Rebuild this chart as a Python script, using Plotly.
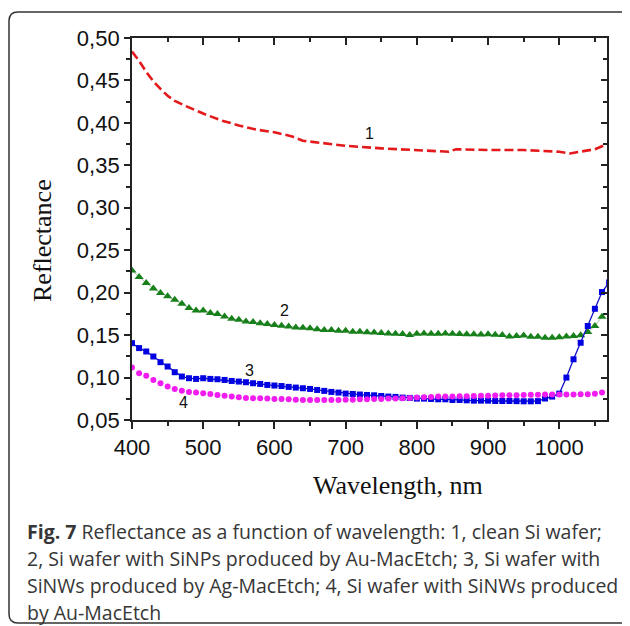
import plotly.graph_objects as go

# ---------------- data ----------------
wl1 = [400, 410, 420, 430, 440, 450, 460, 475, 500, 525, 550, 575, 600, 625, 640,
       660, 700, 750, 800, 830, 845, 855, 900, 950, 980, 1000, 1015, 1030, 1050, 1067]
r1 = [0.484, 0.473, 0.460, 0.449, 0.440, 0.432, 0.426, 0.420, 0.411, 0.403, 0.397,
      0.392, 0.389, 0.384, 0.379, 0.377, 0.373, 0.370, 0.368, 0.367, 0.366, 0.369,
      0.368, 0.368, 0.367, 0.366, 0.364, 0.366, 0.369, 0.375]

wl = list(range(400, 1061, 10))  # 400 ... 1060 nm

r2 = [0.226, 0.2185, 0.2114, 0.205, 0.1996, 0.1957, 0.1917, 0.187, 0.182, 0.179,
      0.179, 0.176, 0.1748, 0.172, 0.1693, 0.168, 0.1661, 0.1654, 0.164, 0.163,
      0.162, 0.161, 0.160, 0.159, 0.1587, 0.158, 0.157, 0.156, 0.156, 0.155,
      0.155, 0.154, 0.154, 0.1535, 0.153, 0.1524, 0.152, 0.1516, 0.1512, 0.150,
      0.1516, 0.152, 0.1516, 0.1516, 0.152, 0.1516, 0.1512, 0.151, 0.151, 0.1506,
      0.151, 0.1504, 0.150, 0.1484, 0.149, 0.1496, 0.148, 0.148, 0.147, 0.147,
      0.1476, 0.1484, 0.149, 0.1498, 0.1537, 0.1607, 0.1717]

r3 = [0.1405, 0.1347, 0.1307, 0.1248, 0.1181, 0.113, 0.1063, 0.1012, 0.0992, 0.0984,
      0.0992, 0.0984, 0.098, 0.0972, 0.096, 0.0953, 0.0945, 0.0933, 0.0925, 0.0913,
      0.0906, 0.090, 0.089, 0.0882, 0.0874, 0.0866, 0.0854, 0.0843, 0.0831, 0.0823,
      0.0811, 0.0807, 0.080, 0.0795, 0.0791, 0.0783, 0.0776, 0.0772, 0.0764, 0.076,
      0.0752, 0.0752, 0.0748, 0.0744, 0.0744, 0.0736, 0.0736, 0.0732, 0.0728, 0.0728,
      0.0728, 0.0724, 0.0724, 0.0724, 0.0722, 0.0720, 0.0720, 0.0722, 0.0753, 0.0776,
      0.0811, 0.100, 0.1215, 0.141, 0.1607, 0.181, 0.2007]
wl3_tail = [1070]
r3_tail = [0.212]

r4 = [0.1118, 0.1051, 0.102, 0.0972, 0.0933, 0.0894, 0.0866, 0.0846, 0.0831, 0.0823,
      0.0815, 0.0807, 0.0795, 0.0787, 0.0776, 0.0768, 0.076, 0.0756, 0.0756, 0.0752,
      0.0748, 0.0748, 0.0744, 0.074, 0.0736, 0.0736, 0.0736, 0.0736, 0.0736, 0.0736,
      0.074, 0.074, 0.0744, 0.0744, 0.0748, 0.0748, 0.0752, 0.0752, 0.0756, 0.076,
      0.0764, 0.0768, 0.0772, 0.0776, 0.0776, 0.0776, 0.078, 0.078, 0.0784, 0.0787,
      0.0787, 0.0789, 0.0791, 0.0791, 0.0793, 0.0795, 0.0797, 0.0797, 0.0799, 0.080,
      0.080, 0.0801, 0.0801, 0.0802, 0.0803, 0.0808, 0.0823]

x_ticks = [400, 500, 600, 700, 800, 900, 1000]
x_ticktext = ["400", "500", "600", "700", "800", "900", "1000"]
x_minor = [450, 550, 650, 750, 850, 950, 1050]
y_ticks = [0.05, 0.10, 0.15, 0.20, 0.25, 0.30, 0.35, 0.40, 0.45, 0.50]
y_ticktext = ["0,05", "0,10", "0,15", "0,20", "0,25", "0,30", "0,35", "0,40", "0,45", "0,50"]
y_minor = [0.075, 0.125, 0.175, 0.225, 0.275, 0.325, 0.375, 0.425, 0.475]

curve_labels = ["1", "2", "3", "4"]
label_x = [733, 614, 565, 473]
label_y = [0.388, 0.179, 0.1086, 0.0706]

x_title = "Wavelength, nm"
y_title = "Reflectance"
caption_lines = [
    "<b>Fig. 7</b> Reflectance as a function of wavelength: 1, clean Si wafer;",
    "2, Si wafer with SiNPs produced by Au-MacEtch; 3, Si wafer with",
    "SiNWs produced by Ag-MacEtch; 4, Si wafer with SiNWs produced",
    "by Au-MacEtch",
]

# ---------------- layout geometry ----------------
# the page adds an 8px body margin, so the figure is drawn shifted by OFF
OFF = 8
W, H = 630 - OFF, 626 - OFF
PLOT_L, PLOT_R, PLOT_T, PLOT_B = 132, 607, 38, 420   # screen pixels
L, T = PLOT_L - OFF, PLOT_T - OFF
R = W - (PLOT_R - OFF)
B = H - (PLOT_B - OFF)
PW, PH = W - L - R, H - T - B


def px(x):
    return (x - PLOT_L) / PW


def py(y):
    return (PLOT_B - y) / PH


XR = [400, 1067]
YR = [0.05, 0.50]

fig = go.Figure()

fig.add_trace(go.Scatter(x=wl1, y=r1, mode="lines",
                         line=dict(color="#e3191c", width=2.6, dash="9px,4px"),
                         showlegend=False))
fig.add_trace(go.Scatter(x=wl, y=r2, mode="lines+markers",
                         line=dict(color="#8fb38f", width=0.8),
                         marker=dict(symbol="triangle-up", size=8, color="#17801a"),
                         showlegend=False))
fig.add_trace(go.Scatter(x=wl + wl3_tail, y=r3 + r3_tail, mode="lines+markers",
                         line=dict(color="#1010c8", width=1.3),
                         marker=dict(symbol="square", size=6, color="#0000e0"),
                         showlegend=False))
fig.add_trace(go.Scatter(x=wl, y=r4, mode="markers",
                         marker=dict(symbol="circle", size=6, color="#f01cf0"),
                         showlegend=False))

tickfont = dict(family="Liberation Sans, Arial, sans-serif", size=22, color="#111111")
axcol = "#222222"

fig.update_layout(
    width=W, height=H,
    margin=dict(l=L, r=R, t=T, b=B, pad=0),
    paper_bgcolor="white", plot_bgcolor="white",
    showlegend=False,
    xaxis=dict(range=XR, tickmode="array", tickvals=x_ticks, ticktext=x_ticktext,
               ticks="outside", ticklen=7, tickwidth=1.5, tickcolor=axcol,
               showline=True, linewidth=1.8, linecolor=axcol, mirror=False,
               showgrid=False, zeroline=False, tickfont=tickfont,
               minor=dict(tickvals=x_minor, ticks="outside", ticklen=4,
                          tickwidth=1.5, tickcolor=axcol, showgrid=False)),
    xaxis2=dict(range=XR, overlaying="x", side="top", matches="x",
                tickmode="array", tickvals=x_ticks, showticklabels=False,
                ticks="inside", ticklen=7, tickwidth=1.5, tickcolor=axcol,
                showline=True, linewidth=1.8, linecolor=axcol,
                showgrid=False, zeroline=False,
                minor=dict(tickvals=x_minor, ticks="inside", ticklen=4,
                           tickwidth=1.5, tickcolor=axcol, showgrid=False)),
    yaxis=dict(range=YR, tickmode="array", tickvals=y_ticks, ticktext=y_ticktext,
               ticks="outside", ticklen=6, tickwidth=1.5, tickcolor=axcol,
               showline=True, linewidth=1.8, linecolor=axcol,
               showgrid=False, zeroline=False, tickfont=tickfont,
               minor=dict(tickvals=y_minor, ticks="outside", ticklen=4,
                          tickwidth=1.5, tickcolor=axcol, showgrid=False)),
    yaxis2=dict(range=YR, overlaying="y", side="right", matches="y",
                tickmode="array", tickvals=y_ticks, showticklabels=False,
                ticks="inside", ticklen=6, tickwidth=1.5, tickcolor=axcol,
                showline=True, linewidth=1.8, linecolor=axcol,
                showgrid=False, zeroline=False,
                minor=dict(tickvals=y_minor, ticks="inside", ticklen=4,
                           tickwidth=1.5, tickcolor=axcol, showgrid=False)),
)

# invisible trace so the mirror axes are rendered
fig.add_trace(go.Scatter(x=[XR[0]], y=[YR[0]], xaxis="x2", yaxis="y2",
                         mode="markers", marker=dict(opacity=0), hoverinfo="skip",
                         showlegend=False))

annotations = []
for t, xv, yv in zip(curve_labels, label_x, label_y):
    annotations.append(dict(x=xv, y=yv, xref="x", yref="y", text=t, showarrow=False,
                            font=dict(family="Liberation Sans, Arial, sans-serif",
                                      size=16, color="#111111")))

annotations.append(dict(x=px(398), y=py(486), xref="paper", yref="paper", text=x_title,
                        showarrow=False, xanchor="center", yanchor="middle",
                        font=dict(family="Liberation Serif, Times New Roman, serif",
                                  size=26, color="#111111")))
annotations.append(dict(x=px(43), y=py(241), xref="paper", yref="paper", text=y_title,
                        showarrow=False, textangle=-90, xanchor="center", yanchor="middle",
                        font=dict(family="Liberation Serif, Times New Roman, serif",
                                  size=26, color="#111111")))

cap_y = [531, 558, 585, 612]
for line, yy in zip(caption_lines, cap_y):
    annotations.append(dict(x=px(25), y=py(yy), xref="paper", yref="paper", text=line,
                            showarrow=False, xanchor="left", yanchor="middle",
                            font=dict(family="Open Sans, sans-serif", size=19.5,
                                      color="#363636")))
fig.update_layout(annotations=annotations)

# rounded frame around the figure (screen pixels)
x0, x1, y0, y1, rr = 9, 629.5, 12, 623, 9
path = (f"M {px(x0 + rr)},{py(y0)} L {px(x1 - rr)},{py(y0)} "
        f"Q {px(x1)},{py(y0)} {px(x1)},{py(y0 + rr)} "
        f"L {px(x1)},{py(y1 - rr)} Q {px(x1)},{py(y1)} {px(x1 - rr)},{py(y1)} "
        f"L {px(x0 + rr)},{py(y1)} Q {px(x0)},{py(y1)} {px(x0)},{py(y1 - rr)} "
        f"L {px(x0)},{py(y0 + rr)} Q {px(x0)},{py(y0)} {px(x0 + rr)},{py(y0)} Z")
fig.add_shape(type="path", path=path, xref="paper", yref="paper",
              line=dict(color="#333333", width=1.5), fillcolor="rgba(0,0,0,0)",
              layer="below")

fig.write_html("out.html")
